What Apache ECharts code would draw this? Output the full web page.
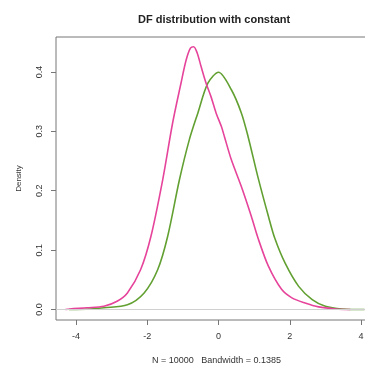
<!DOCTYPE html>
<html>
<head>
  <meta charset="UTF-8">
  <title>DF distribution</title>
  <style>
    html, body { margin: 0; padding: 0; background: #fff; }
    #main { width: 365px; height: 366px; }
  </style>
  <script src="https://cdn.jsdelivr.net/npm/echarts@6/dist/echarts.min.js"></script>
</head>
<body>
<div id="main"></div>
<script>
  // density estimates
  var dfX = [-4.3, -4.17, -3.69, -3.22, -2.85, -2.56, -2.19, -1.9, -1.57, -1.29, -1.055, -0.91, -0.79, -0.7, -0.6, -0.49, -0.35, -0.21, -0.07, 0.08, 0.17, 0.36, 0.64, 0.92, 1.11, 1.4, 1.77, 2.06, 2.43, 2.81, 3.28, 3.7];
  var dfY = [0, 0.001, 0.003, 0.0056, 0.014, 0.028, 0.067, 0.123, 0.218, 0.314, 0.381, 0.42, 0.44, 0.4425, 0.432, 0.409, 0.381, 0.358, 0.331, 0.308, 0.29, 0.252, 0.207, 0.157, 0.12, 0.073, 0.034, 0.0197, 0.011, 0.0045, 0.001, 0];
  var normX = [-4.2, -3.6, -3.22, -2.56, -2.09, -1.71, -1.43, -1.1, -0.82, -0.58, -0.3, 0, 0.36, 0.64, 0.83, 1.11, 1.4, 1.58, 1.87, 2.25, 2.63, 3.0, 3.47, 4.1];
  var normY = [0, 0.001, 0.003, 0.008, 0.028, 0.067, 0.123, 0.218, 0.286, 0.331, 0.381, 0.3995, 0.37, 0.331, 0.291, 0.222, 0.157, 0.12, 0.078, 0.039, 0.0168, 0.0056, 0.001, 0];
  var xTicks = [-4, -2, 0, 2, 4];
  var yTicks = [0, 0.1, 0.2, 0.3, 0.4];

  function pairs(xs, ys) {
    return xs.map(function (x, i) { return [x, ys[i]]; });
  }

  var chart = echarts.init(document.getElementById('main'));
  var textColor = '#333';
  var option = {
    animation: false,
    title: {
      text: 'DF distribution with constant',
      left: 133,
      top: 9,
      textStyle: { fontFamily: 'Liberation Sans', fontSize: 11, fontWeight: 'bold', color: '#222' }
    },
    grid: {
      left: 56, top: 37, right: -12, bottom: 46,
      outerBoundsMode: 'none',
      containLabel: false,
      show: true, borderColor: '#777', borderWidth: 1, backgroundColor: 'transparent'
    },
    xAxis: {
      type: 'value',
      min: -4.565, max: 4.45,
      name: 'N = 10000   Bandwidth = 0.1385',
      nameLocation: 'middle',
      nameGap: 36,
      nameTextStyle: { fontFamily: 'Liberation Sans', fontSize: 9, color: textColor },
      splitLine: { show: false },
      axisLine: { show: false, onZero: false },
      axisTick: { show: true, inside: false, length: 5, customValues: xTicks, lineStyle: { color: '#777' } },
      axisLabel: {
        customValues: xTicks, margin: 12,
        fontFamily: 'Liberation Sans', fontSize: 9, color: textColor,
        formatter: function (v) { return String(v); }
      }
    },
    yAxis: {
      type: 'value',
      min: -0.0176, max: 0.4588,
      name: 'Density',
      nameLocation: 'middle',
      nameGap: 33,
      nameRotate: 90,
      nameTextStyle: { fontFamily: 'Liberation Sans', fontSize: 8, color: textColor },
      splitLine: { show: false },
      axisLine: { show: false, onZero: false },
      axisTick: { show: true, inside: false, length: 5, customValues: yTicks, lineStyle: { color: '#777' } },
      axisLabel: {
        customValues: yTicks, margin: 12, rotate: 90,
        fontFamily: 'Liberation Sans', fontSize: 9, color: textColor,
        formatter: function (v) { return v.toFixed(1); }
      }
    },
    series: [
      {
        type: 'line',
        data: pairs(normX, normY),
        smooth: 0.3,
        showSymbol: false,
        lineStyle: { color: '#62a032', width: 1.6 },
        markLine: {
          silent: true,
          symbol: ['none', 'none'],
          label: { show: false },
          lineStyle: { color: '#d0d0d0', width: 1, type: 'solid' },
          data: [{ yAxis: 0 }]
        },
        z: 2
      },
      {
        type: 'line',
        data: pairs(dfX, dfY),
        smooth: 0.3,
        showSymbol: false,
        lineStyle: { color: '#e6449b', width: 1.6 },
        z: 3
      }
    ]
  };
  chart.setOption(option);
</script>
</body>
</html>
